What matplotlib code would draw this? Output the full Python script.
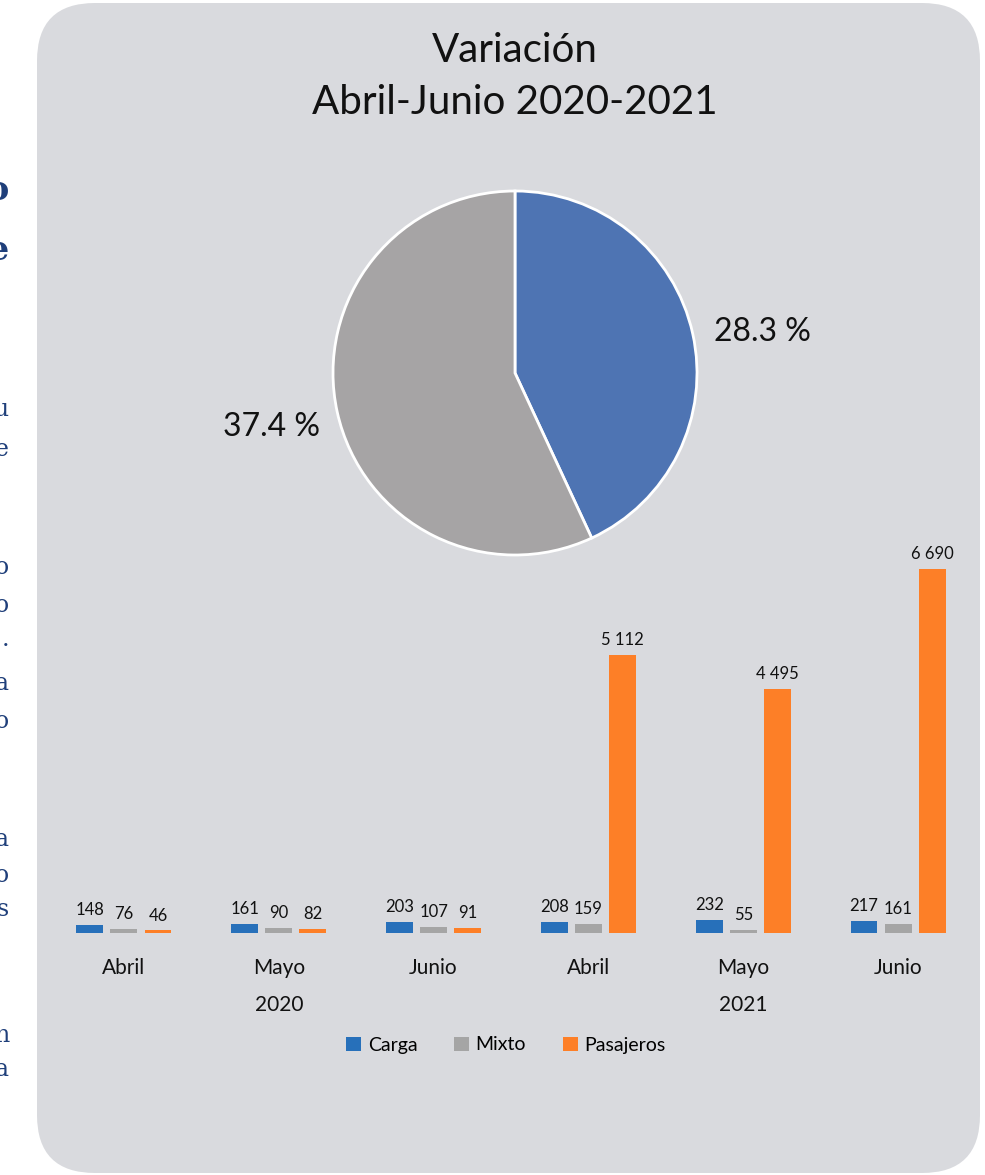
import numpy as np
import matplotlib
matplotlib.use("Agg")
import matplotlib.pyplot as plt
from matplotlib.patches import FancyBboxPatch

plt.rcParams["font.family"] = ["Lato", "DejaVu Sans"]

W, H = 985, 1175

# ---------------------------------------------------------------------------
# Data
# ---------------------------------------------------------------------------
title = "Variación\nAbril-Junio 2020-2021"

pie_values = [28.3, 37.4]
pie_colors = ["#4E74B3", "#A6A4A5"]

months = ["Abril", "Mayo", "Junio", "Abril", "Mayo", "Junio"]
years = ["2020", "2021"]
series = ["Carga", "Mixto", "Pasajeros"]
carga = [148, 161, 203, 208, 232, 217]
mixto = [76, 90, 107, 159, 55, 161]
pasajeros = [46, 82, 91, 5112, 4495, 6690]
bar_colors = ["#2770BA", "#A5A5A5", "#FD7F27"]

# cut-off letters of the neighbouring text column (page edge)
side_letters = [("o", 190, 24, "bold"), ("e", 250, 24, "bold"),
                ("u", 410, 17, "normal"), ("e", 450, 17, "normal"),
                ("o", 568, 17, "normal"), ("o", 605, 17, "normal"),
                (".", 640, 17, "normal"), ("a", 683, 17, "normal"),
                ("o", 722, 17, "normal"), ("a", 840, 17, "normal"),
                ("o", 875, 17, "normal"), ("s", 910, 17, "normal"),
                ("n", 1035, 17, "normal"), ("a", 1070, 17, "normal")]


def box(x0, y0, x1, y1):
    """Pixel box (top-left origin) -> figure fraction rect."""
    return [x0 / W, 1 - y1 / H, (x1 - x0) / W, (y1 - y0) / H]


fig = plt.figure(figsize=(W / 100, H / 100), dpi=100)
fig.patch.set_facecolor("white")

# background panel
bg = fig.add_axes([0, 0, 1, 1])
bg.set_xlim(0, W)
bg.set_ylim(H, 0)
bg.axis("off")
bg.add_patch(FancyBboxPatch((37, 3), 943, 1170,
                            boxstyle="round,pad=0,rounding_size=58",
                            facecolor="#D9DADE", edgecolor="none"))

for ch, y, size, weight in side_letters:
    bg.text(9, y, ch, ha="right", va="center", fontsize=size,
            fontweight=weight, color="#1F3F7A", family="DejaVu Serif")

bg.text(515, 76, title, ha="center", va="center", fontsize=29,
        linespacing=1.5, color="#111111")

# ---------------------------------------------------------------------------
# Pie
# ---------------------------------------------------------------------------
ax_pie = fig.add_axes(box(333, 191, 697, 555))
total = sum(pie_values)
wedges, texts, autotexts = ax_pie.pie(
    pie_values, colors=pie_colors, startangle=90, counterclock=False,
    wedgeprops=dict(edgecolor="white", linewidth=2),
    autopct=lambda p: f"{p * total / 100:.1f} %", pctdistance=1.37,
    textprops=dict(fontsize=23, color="#111111"))
# Excel puts the right-hand label a bit lower
tx, ty = autotexts[0].get_position()
autotexts[0].set_position((tx + 0.02, ty - 0.07))
ax_pie.set_xlim(-1, 1)
ax_pie.set_ylim(-1, 1)
ax_pie.set_aspect("equal")

# ---------------------------------------------------------------------------
# Bars
# ---------------------------------------------------------------------------
ax = fig.add_axes(box(46.5, 498, 975.5, 933))
ax.set_facecolor("none")
x = np.arange(len(months))
width = 0.174
step = 0.22
for i, (vals, col, name) in enumerate(zip([carga, mixto, pasajeros], bar_colors, series)):
    bars = ax.bar(x + (i - 1) * step, vals, width, color=col, label=name)
    labels = [f"{v:,}".replace(",", " ") for v in vals]
    ax.bar_label(bars, labels=labels, padding=5, fontsize=12, color="#111111")

ax.set_xlim(-0.5, len(months) - 0.5)
ax.set_ylim(0, 8000)
ax.set_yticks([])
ax.set_xticks(x)
ax.set_xticklabels(months, fontsize=15, color="#111111")
ax.tick_params(axis="x", length=0, pad=18)
for s in ax.spines.values():
    s.set_visible(False)

for j, yr in enumerate(years):
    ax.text(1 + 3 * j, -72 / 0.0544, yr, ha="center", va="center",
            fontsize=15, color="#111111")

handles, lbls = ax.get_legend_handles_labels()
fig.legend(handles, lbls, loc="center", bbox_to_anchor=(506 / W, 1 - 1045 / H),
           ncol=3, frameon=False, fontsize=14, handlelength=0.75,
           handleheight=0.75, handletextpad=0.35, columnspacing=1.9)

fig.savefig("out.png", dpi=100)
